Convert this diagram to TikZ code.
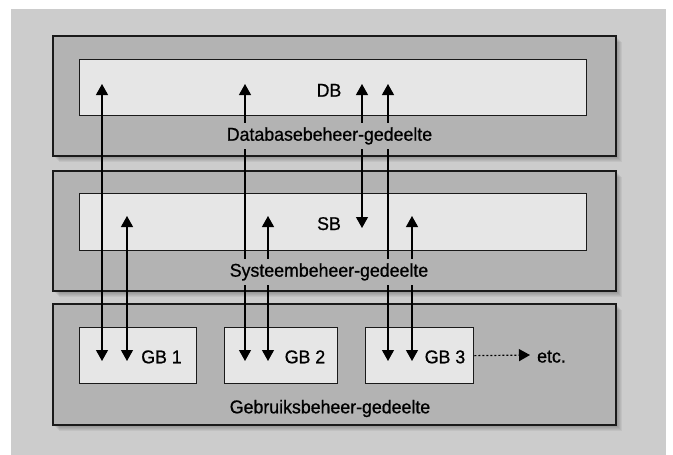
\documentclass[tikz,border=0pt]{standalone}
\usepackage{fontspec}
\setmainfont{Liberation Sans}[FakeBold=0.8,FakeStretch=0.96]
\usetikzlibrary{arrows.meta}
\definecolor{bg}{HTML}{CCCCCC}
\definecolor{outerfill}{HTML}{B3B3B3}
\definecolor{innerfill}{HTML}{E6E6E6}
\definecolor{edge}{HTML}{1A1A1A}
\begin{document}
\begin{tikzpicture}[x=1pt,y=-1pt,
  outerbox/.style={draw=edge,line width=1.6pt,fill=outerfill,anchor=north west,inner sep=0pt},
  innerbox/.style={draw=edge,line width=1.3pt,fill=innerfill,anchor=north west,inner sep=0pt},
  txt/.style={font=\fontsize{18.5}{20}\selectfont,anchor=base,inner sep=0pt},
  lbl/.style={font=\fontsize{18.5}{20}\selectfont,anchor=base,fill=outerfill,inner xsep=2pt,inner ysep=4.5pt},
  arr/.style={line width=1.2pt,{Triangle[length=11pt,width=12pt]}-{Triangle[length=11pt,width=12pt]}},
  dotarr/.style={line width=1.2pt,dash pattern=on 2pt off 2pt,-{Triangle[length=11pt,width=12pt]}},
]
\useasboundingbox (0,0) rectangle (673,455);
\fill[white] (0,0) rectangle (673,455);
\fill[bg] (11,9) rectangle (666,455);
% shadows
\foreach \t/\u in {35/155,170/290,303/424}{
  \foreach \k in {1,...,7}{
    \fill[black,opacity=0.05] (52+\k,\t+\k) rectangle (615+\k,\u+\k);
  }
}
% layers
\node[outerbox,minimum width=563pt,minimum height=120pt] (dblayer) at (52,35) {};
\node[outerbox,minimum width=563pt,minimum height=120pt] (sblayer) at (52,170) {};
\node[outerbox,minimum width=563pt,minimum height=121pt] (gblayer) at (52,303) {};
% inner boxes
\node[innerbox,minimum width=507pt,minimum height=56pt] (db) at (79,59) {};
\node[innerbox,minimum width=507pt,minimum height=57pt] (sb) at (79,193) {};
\node[innerbox,minimum width=117pt,minimum height=56pt] (gb1) at (79,327) {};
\node[innerbox,minimum width=113pt,minimum height=56pt] (gb2) at (224,327) {};
\node[innerbox,minimum width=108pt,minimum height=56pt] (gb3) at (365,327) {};
% texts
\node[txt] (dbt) at (329,96.7) {DB};
\node[txt] (sbt) at (329,230) {SB};
\node[txt] (gb1t) at (161.5,363.3) {GB 1};
\node[txt] (gb2t) at (305,363.3) {GB 2};
\node[txt] (gb3t) at (445,363.3) {GB 3};
\node[txt] (etc) at (551.5,362.5) {etc.};
% arrow end points
\coordinate (a1t) at (102,84);  \coordinate (a1b) at (102,361);
\coordinate (a2t) at (127,216); \coordinate (a2b) at (127,361);
\coordinate (a3t) at (245,84);  \coordinate (a3b) at (245,361);
\coordinate (a4t) at (268,216); \coordinate (a4b) at (268,361);
\coordinate (a5t) at (362,84);  \coordinate (a5b) at (362,228);
\coordinate (a6t) at (388,84);  \coordinate (a6b) at (388,361);
\coordinate (a7t) at (412,216); \coordinate (a7b) at (412,361);
\foreach \i in {1,...,7}{\draw[arr] (a\i t) -- (a\i b);}
\coordinate (etcend) at (530,355);
\draw[dotarr] (gb3.east) -- (etcend);
% layer labels
\node[lbl] (dbl) at (329.5,140.7) {Databasebeheer-gedeelte};
\node[lbl] (sbl) at (329,276.7) {Systeembeheer-gedeelte};
\node[lbl] (gbl) at (330,413.3) {Gebruiksbeheer-gedeelte};
\end{tikzpicture}
\end{document}
